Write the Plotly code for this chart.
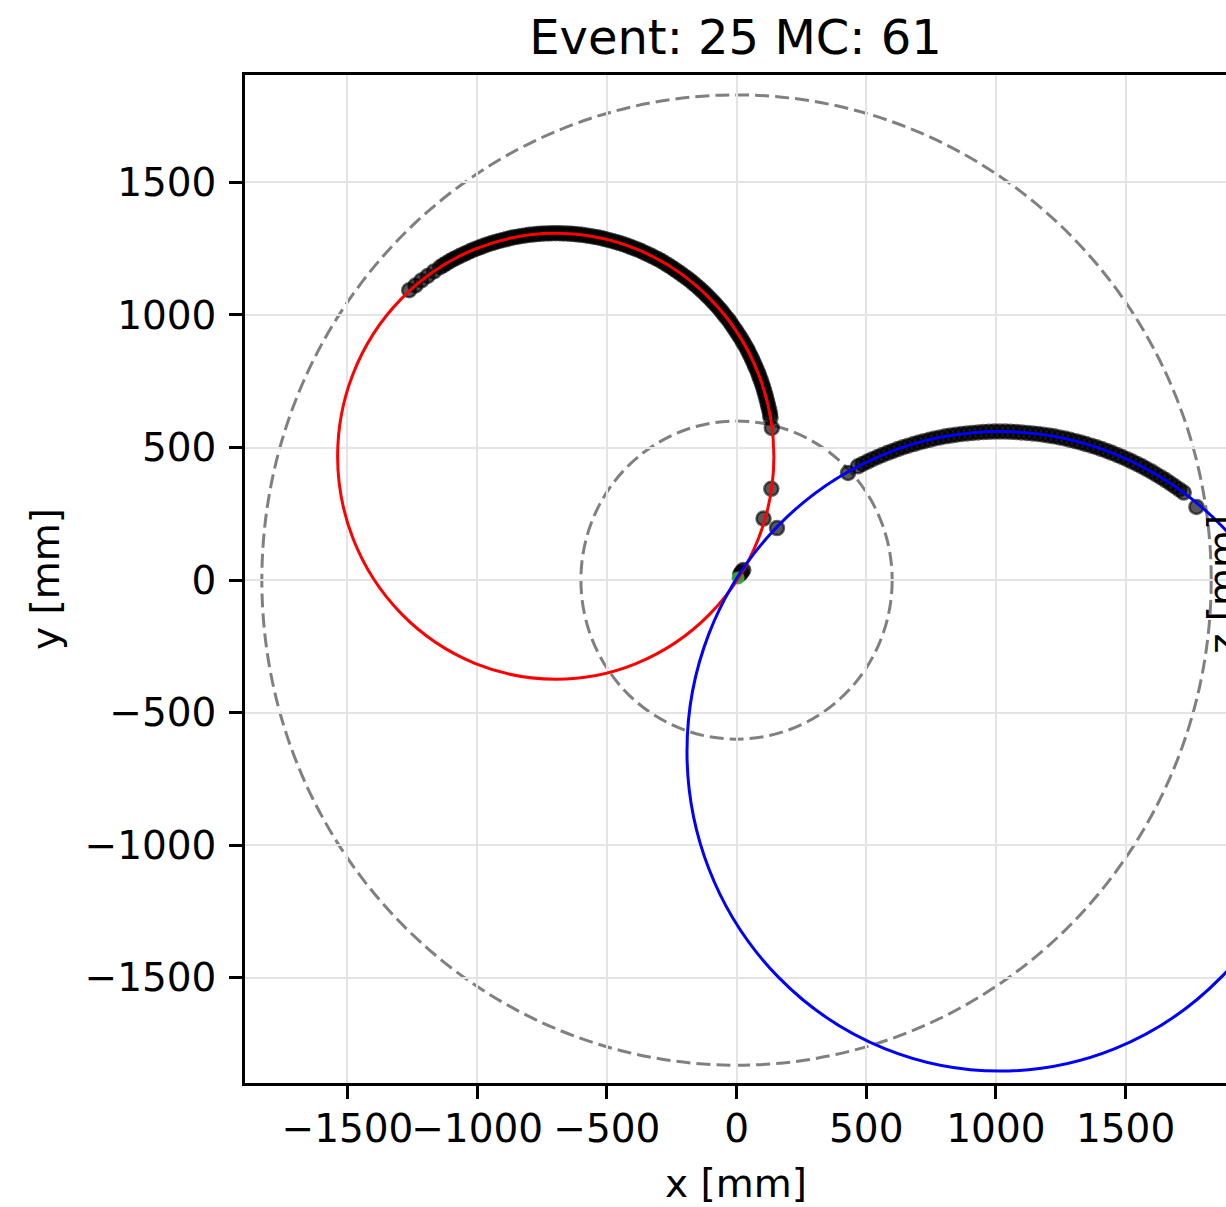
import plotly.graph_objects as go

# Event display, transverse (x-y) view

TITLE = "Event: 25 MC: 61"

# Detector boundaries drawn as dashed circles about the origin [mm]
detector_radii = [600, 1830]

# Fitted track circles in the x-y plane: centre and radius [mm]
track_cx = [-697, 1015]
track_cy = [467, -646]
track_r = [841, 1206]
track_colors = ["red", "blue"]

# Reconstructed hits on track 1 [mm]
hits1_x = [-1262, -1238, -1215, -1191, -1167, -1143, -1130, -1118, -1105, -1092,
           -1079, -1066, -1052, -1039, -1026, -1012, -998, -985, -971, -957,
           -943, -929, -915, -900, -886, -872, -858, -843, -829, -814,
           -800, -785, -770, -756, -741, -726, -712, -697, -682, -668,
           -653, -638, -624, -609, -595, -580, -566, -551, -537, -522,
           -508, -494, -479, -465, -451, -437, -423, -409, -396, -382,
           -368, -355, -342, -328, -315, -302, -289, -276, -264, -251,
           -239, -227, -215, -203, -191, -179, -168, -156, -145, -134,
           -123, -113, -102, -92, -82, -72, -62, -53, -44, -34,
           -25, -17, -8, 0, 8, 16, 24, 31, 39, 46,
           52, 59, 65, 71, 77, 83, 88, 93, 98, 103,
           107, 111, 115, 119, 122, 126, 129, 131, 136, 134,
           104, 26, 14]
hits1_y = [1093, 1111, 1130, 1147, 1164, 1180, 1188, 1195, 1203, 1210,
           1216, 1223, 1229, 1235, 1241, 1247, 1252, 1257, 1262, 1267,
           1271, 1275, 1279, 1283, 1286, 1290, 1293, 1295, 1298, 1300,
           1302, 1303, 1305, 1306, 1307, 1307, 1308, 1308, 1308, 1307,
           1307, 1306, 1305, 1303, 1302, 1300, 1298, 1295, 1293, 1290,
           1286, 1283, 1279, 1275, 1271, 1267, 1262, 1257, 1252, 1247,
           1241, 1235, 1229, 1223, 1216, 1210, 1203, 1195, 1188, 1180,
           1172, 1164, 1156, 1147, 1139, 1130, 1121, 1111, 1102, 1092,
           1082, 1072, 1062, 1051, 1041, 1030, 1019, 1008, 996, 985,
           973, 961, 949, 937, 925, 913, 900, 888, 875, 862,
           849, 836, 822, 809, 796, 782, 768, 755, 741, 727,
           713, 699, 685, 670, 656, 642, 627, 613, 574, 344,
           232, 38, 22]

# Reconstructed hits on track 2 [mm]
hits2_x = [430, 468, 486, 505, 524, 544, 563, 583, 603, 622,
           642, 662, 683, 703, 723, 744, 764, 785, 806, 826,
           847, 868, 889, 910, 931, 952, 973, 994, 1015, 1036,
           1057, 1078, 1099, 1120, 1141, 1162, 1183, 1204, 1224, 1245,
           1266, 1286, 1307, 1327, 1347, 1368, 1388, 1408, 1428, 1447,
           1467, 1486, 1506, 1525, 1544, 1563, 1581, 1600, 1618, 1636,
           1654, 1672, 1689, 1707, 1724, 1773, 156, 20]
hits2_y = [404, 429, 438, 447, 456, 464, 472, 480, 487, 494,
           501, 507, 513, 519, 524, 529, 534, 538, 542, 545,
           548, 551, 553, 555, 557, 558, 559, 560, 560, 560,
           559, 558, 557, 555, 553, 551, 548, 545, 542, 538,
           534, 529, 524, 519, 513, 507, 501, 494, 487, 480,
           472, 464, 456, 447, 438, 429, 419, 409, 398, 388,
           377, 365, 354, 342, 330, 276, 196, 30]

# Primary vertex [mm]
vertex_x = [6]
vertex_y = [8]

# Axis ticks
tick_vals = [-1500, -1000, -500, 0, 500, 1000, 1500]
tick_text = ["\u22121500", "\u22121000", "\u2212500", "0", "500", "1000", "1500"]

FONT = "DejaVu Sans"
W, H = 1226, 1207
L, T, B = 245, 75, 124

fig = go.Figure()

hit_marker = dict(size=14, color="rgba(0,0,0,0.66)",
                  line=dict(width=2.5, color="rgba(0,0,0,0.6)"))
for hx, hy in ((hits1_x, hits1_y), (hits2_x, hits2_y)):
    fig.add_trace(go.Scatter(x=hx, y=hy, mode="markers", marker=hit_marker,
                             hoverinfo="skip", showlegend=False))

fig.add_trace(go.Scatter(x=vertex_x, y=vertex_y, mode="markers",
                         marker=dict(size=13, color="rgba(55,165,55,0.95)",
                                     line=dict(width=0)),
                         showlegend=False))

shapes = []
for r in detector_radii:
    shapes.append(dict(type="circle", xref="x", yref="y",
                       x0=-r, x1=r, y0=-r, y1=r, layer="below",
                       line=dict(color="gray", width=3, dash="14px,6px")))
for cx, cy, r, c in zip(track_cx, track_cy, track_r, track_colors):
    shapes.append(dict(type="circle", xref="x", yref="y",
                       x0=cx - r, x1=cx + r, y0=cy - r, y1=cy + r, layer="above",
                       line=dict(color=c, width=3)))

axis_common = dict(
    tickvals=tick_vals, ticktext=tick_text,
    showgrid=True, gridcolor="#e4e4e4", gridwidth=2,
    zeroline=False, automargin=False,
    showline=True, linecolor="black", linewidth=2.6,
    ticks="outside", ticklen=13, tickwidth=2.6, tickcolor="black",
    tickfont=dict(family=FONT, size=39, color="black"),
)

fig.update_layout(
    width=W, height=H,
    margin=dict(l=L, r=0, t=T, b=B, pad=0, autoexpand=False),
    paper_bgcolor="white", plot_bgcolor="white",
    xaxis=dict(range=[-1895, 1887], mirror=True, tickangle=0,
               ticklabelstandoff=-4, **axis_common),
    yaxis=dict(range=[-1897, 1905], mirror=False, ticklabelstandoff=5, **axis_common),
    shapes=shapes,
    title=dict(text=TITLE, x=0.5, xref="paper", xanchor="center",
               y=1 - 37 / H, yref="container", yanchor="middle",
               font=dict(family=FONT, size=48, color="black")),
    annotations=[
        dict(text="x [mm]", xref="paper", yref="paper", x=0.5, y=-100 / 1008,
             xanchor="center", yanchor="middle", showarrow=False,
             font=dict(family=FONT, size=39, color="black")),
        dict(text="y [mm]", xref="paper", yref="paper", x=(45 - L) / (W - L), y=0.5,
             xanchor="center", yanchor="middle", textangle=-90, showarrow=False,
             font=dict(family=FONT, size=39, color="black")),
        dict(text="z [mm]", xref="paper", yref="paper", x=(1222 - L) / (W - L),
             y=(1083 - 585) / 1008,
             xanchor="center", yanchor="middle", textangle=-90, showarrow=False,
             font=dict(family=FONT, size=39, color="black")),
    ],
)

fig.write_html("out.html")
